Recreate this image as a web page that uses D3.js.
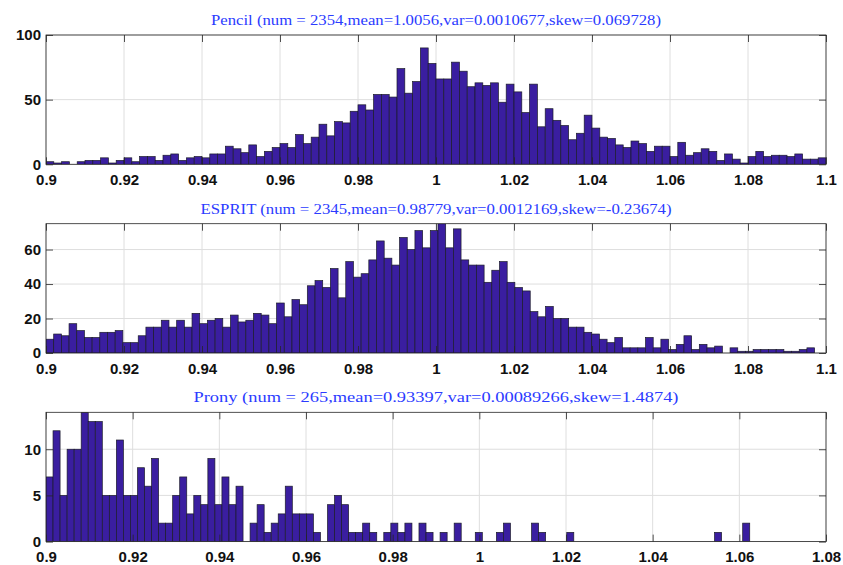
<!DOCTYPE html>
<html><head><meta charset="utf-8">
<script src="https://cdn.jsdelivr.net/npm/d3@7"></script>
<style>body{margin:0;background:#fff}svg{display:block}</style>
</head><body><svg id="c" width="843" height="565"></svg>
<script>
// ---- data ----
const titles = [
  "Pencil (num = 2354,mean=1.0056,var=0.0010677,skew=0.069728)",
  "ESPRIT (num = 2345,mean=0.98779,var=0.0012169,skew=-0.23674)",
  "Prony (num = 265,mean=0.93397,var=0.00089266,skew=1.4874)"
];
const pencilCounts = [2,1,2,0,2,3,3,5,1,3, 5,2,6,6,3,7,8,3,5,6, 5,8,8,14,12,9,15,6,10,13,
  16,13,23,16,21,31,22,33,32,41, 46,42,54,54,52,74,55,64,90,78, 66,66,79,72,60,63,61,63,48,62,
  56,40,62,29,43,34,30,19,24,38, 28,21,20,15,13,18,16,10,14,14, 6,17,7,9,12,10,3,8,4,1,
  6,10,6,7,7,6,8,4,4,5];
const espritCounts = [8,11,10,17,13,9,9,12,12,13, 6,6,10,15,15,19,15,19,15,23, 17,19,20,15,22,18,19,23,22,17,
  29,21,31,28,39,42,38,49,32,53, 44,46,54,65,55,51,67,60,71,61, 71,75,61,72,54,51,51,41,48,53,
  41,38,36,24,21,27,20,20,15,15, 12,11,8,6,9,3,3,3,9,3, 8,2,5,10,2,5,3,4,0,3,
  1,1,2,2,2,2,1,1,2,3];
const pronyCounts = [7,12,5,10,10,14,13,13,5,5, 11,5,5,8,6,9,2,2,5,7, 3,5,4,9,4,7,4,6,0,2,
  4,1,2,3,6,3,3,3,1,0, 4,5,4,1,1,2,1,0,1,2, 1,2,0,2,1,0,1,0,2,0, 0,1,0,0,1,2,0,0,0,2,
  1,0,0,0,1,0,0,0,0,0, 0,0,0,0,0,0,0,0,0,0, 0,0,0,0,0,1,0,0,0,2];
// bin start and bin width per histogram
const binStarts = [0.9, 0.9, 0.9];
const binWidths = [0.002, 0.0019708, 0.001624];
const xTicksAB = [0.9,0.92,0.94,0.96,0.98,1,1.02,1.04,1.06,1.08,1.1];
const xTicksC = [0.9,0.92,0.94,0.96,0.98,1,1.02,1.04,1.06,1.08];
const xDomains = [[0.9,1.1],[0.9,1.1],[0.9,1.08]];
const yMaxes = [100, 75, 14];
const yTicksA = [0,50,100];
const yTicksB = [0,20,40,60];
const yTicksC = [0,5,10];

// ---- layout ----
const L = 46, R = 826, H = 129.3;
const tops = [35, 223.7, 412.3];
const titleLens = [450, 471, 485];
const allCounts = [pencilCounts, espritCounts, pronyCounts];
const allXTicks = [xTicksAB, xTicksAB, xTicksC];
const allYTicks = [yTicksA, yTicksB, yTicksC];

const svg = d3.select("#c");
const fmtX = d3.format("~g");
const barFill = "#3a1ea0";
const gridCol = "#dedede";
const axisCol = "#262626";

allCounts.forEach((counts, p) => {
  const top = tops[p], bottom = top + H;
  const x = d3.scaleLinear().domain(xDomains[p]).range([L, R]);
  const y = d3.scaleLinear().domain([0, yMaxes[p]]).range([bottom, top]);
  const g = svg.append("g");
  const cid = "clip" + p;
  svg.append("clipPath").attr("id", cid).append("rect")
    .attr("x", L).attr("y", top).attr("width", R - L).attr("height", H);

  // grid
  g.append("g").selectAll("line.vx").data(allXTicks[p]).join("line")
    .attr("x1", d => x(d)).attr("x2", d => x(d)).attr("y1", top).attr("y2", bottom)
    .attr("stroke", gridCol).attr("stroke-width", 1);
  g.append("g").selectAll("line.hy").data(allYTicks[p]).join("line")
    .attr("x1", L).attr("x2", R).attr("y1", d => y(d)).attr("y2", d => y(d))
    .attr("stroke", gridCol).attr("stroke-width", 1);

  // bars
  const bins = counts.map((c, i) => ({
    a: binStarts[p] + i * binWidths[p],
    b: binStarts[p] + (i + 1) * binWidths[p],
    c
  }));
  g.append("g").attr("clip-path", `url(#${cid})`)
    .selectAll("rect").data(bins).join("rect")
    .attr("x", d => x(d.a)).attr("width", d => x(d.b) - x(d.a))
    .attr("y", d => y(d.c)).attr("height", d => y(0) - y(d.c))
    .attr("fill", barFill).attr("stroke", "#1c1c2a").attr("stroke-width", 0.7);

  // axes (inside ticks)
  const ax = g.append("g").attr("transform", `translate(0,${bottom})`)
    .call(d3.axisBottom(x).tickValues(allXTicks[p]).tickSize(-7).tickPadding(10).tickFormat(fmtX));
  const axT = g.append("g").attr("transform", `translate(0,${top})`)
    .call(d3.axisTop(x).tickValues(allXTicks[p]).tickSize(-7).tickFormat(""));
  const ay = g.append("g").attr("transform", `translate(${L},0)`)
    .call(d3.axisLeft(y).tickValues(allYTicks[p]).tickSize(-7).tickPadding(5).tickFormat(d3.format("d")));
  const ayR = g.append("g").attr("transform", `translate(${R},0)`)
    .call(d3.axisRight(y).tickValues(allYTicks[p]).tickSize(-7).tickFormat(""));
  [ax, axT, ay, ayR].forEach(a => {
    a.select(".domain").remove();
    a.selectAll(".tick line").attr("stroke", axisCol).attr("stroke-width", 0.8);
    a.selectAll("text").attr("fill", "#111").style("font-family", "'Liberation Sans', Arial, sans-serif")
      .style("font-size", "15px").style("font-weight", "bold");
  });

  // box
  g.append("rect").attr("x", L).attr("y", top).attr("width", R - L).attr("height", H)
    .attr("fill", "none").attr("stroke", axisCol).attr("stroke-width", 0.8);

  // title
  g.append("text").attr("x", (L + R) / 2).attr("y", top - 10)
    .attr("text-anchor", "middle").attr("fill", "#2b3bff")
    .style("font-family", "'Liberation Serif', 'DejaVu Serif', serif").style("font-size", "14px")
    .attr("textLength", titleLens[p]).attr("lengthAdjust", "spacingAndGlyphs")
    .text(titles[p]);
});
</script></body></html>
